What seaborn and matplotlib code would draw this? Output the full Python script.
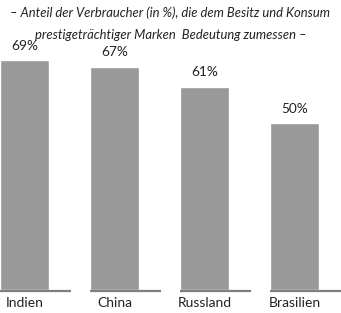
import matplotlib
matplotlib.use('Agg')
import matplotlib.pyplot as plt
import pandas as pd
import seaborn as sns

sns.set_theme(style='white')
plt.rcParams['font.family'] = ['Lato', 'DejaVu Sans']

# data
countries = ['Indien', 'China', 'Russland', 'Brasilien']
shares = [69, 67, 61, 50]
title_lines = ['– Anteil der Verbraucher (in %), die dem Besitz und Konsum',
               'prestigeträchtiger Marken  Bedeutung zumessen –']

df = pd.DataFrame({'country': countries, 'share': shares})

W, H = 341, 313
fig = plt.figure(figsize=(W / 100, H / 100), dpi=100)
ax = fig.add_axes([0, 23 / H, 1, 290 / H])

bar_w = 49 / 90
sns.barplot(data=df, x='country', y='share', color='#999999', saturation=1,
            width=bar_w, ax=ax)

ax.set_xlim(-24.5 / 90, (W - 24.5) / 90)
ax.set_ylim(0, 87)

# underline per category
for i in range(len(countries)):
    ax.hlines(-0.3, i - bar_w / 2, i - bar_w / 2 + 71 / 90, color='#7f7f7f',
              lw=1.6, clip_on=False)

for i, v in enumerate(shares):
    ax.text(i, v + 2.5, f'{v}%', ha='center', va='bottom', fontsize=9.8,
            color='#222222')

ax.set_xlabel('')
ax.set_ylabel('')
ax.set_yticks([])
ax.tick_params(axis='x', length=0, pad=5, labelsize=10, labelcolor='#222222')
for s in ax.spines.values():
    s.set_visible(False)

for k, (line, y_px) in enumerate(zip(title_lines, [17, 39])):
    fig.text(0.5, 1 - y_px / H, line, ha='center', va='baseline',
             fontsize=9.4, style='italic', color='#222222')

fig.savefig('out.png', dpi=100)
